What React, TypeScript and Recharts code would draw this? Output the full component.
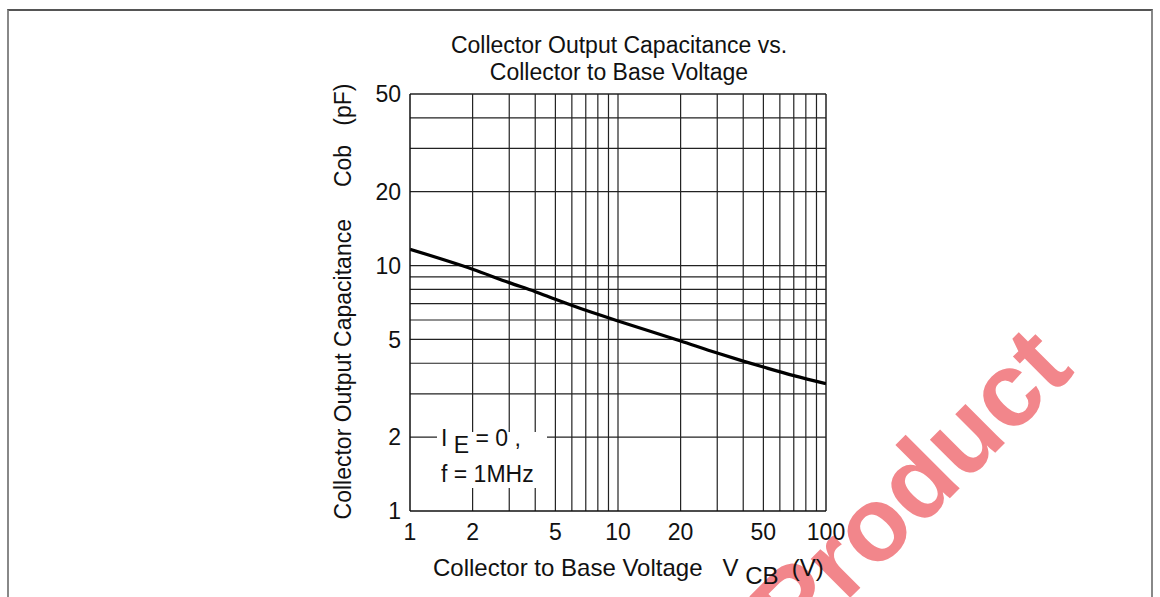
import { LineChart, Line, XAxis, YAxis, ReferenceLine, Label } from "recharts";

// Cob vs VCB (log-log)
const vcb = [1, 2, 3, 4, 5, 7, 10, 20, 30, 40, 50, 70, 100];
const cob = [11.65, 9.66, 8.52, 7.83, 7.29, 6.57, 5.95, 4.93, 4.4, 4.08, 3.86, 3.56, 3.3];

const xTicks = [1, 2, 5, 10, 20, 50, 100];
const yTicks = [1, 2, 5, 10, 20, 50];
const xGrid = [2, 3, 4, 5, 6, 7, 8, 9, 10, 20, 30, 40, 50, 60, 70, 80, 90, 100];
const yGrid = [2, 3, 4, 5, 6, 7, 8, 9, 10, 20, 30, 40, 50];

const data = vcb.map((v, i) => ({ vcb: v, cob: cob[i] }));

const FONT = "'Liberation Sans', Arial, Helvetica, sans-serif";
const INK = "#111";

function YLabel(props: any) {
    const vb = props.viewBox;
    const x = vb.x + 3;
    const y = vb.y + vb.height / 2 - 1;
    return (
        <text
            x={x}
            y={y}
            transform={`rotate(-90 ${x} ${y})`}
            textAnchor="middle"
            dominantBaseline="central"
            fontSize={23}
            fill={INK}
            xmlSpace="preserve"
            style={{ whiteSpace: "pre" }}
        >
            {"Collector Output Capacitance     Cob   (pF)"}
        </text>
    );
}

function XLabel(props: any) {
    const vb = props.viewBox;
    const x = vb.x + 23;
    const y = vb.y + 65;
    return (
        <text
            x={x}
            y={y}
            textAnchor="start"
            fontSize={24}
            fill={INK}
            xmlSpace="preserve"
            style={{ whiteSpace: "pre" }}
        >
            <tspan>{"Collector to Base Voltage   V "}</tspan>
            <tspan dy={8}>{"CB"}</tspan>
            <tspan dy={-8}>{"  (V)"}</tspan>
        </text>
    );
}

export default function App() {
    return (
        <div
            style={{
                position: "absolute",
                left: 0,
                top: 0,
                width: 1160,
                height: 597,
                overflow: "hidden",
                background: "#fff",
                fontFamily: FONT,
            }}
        >
            {/* page frame */}
            <div
                style={{
                    position: "absolute",
                    left: 7,
                    top: 9,
                    width: 1142,
                    height: 620,
                    borderTop: "2px solid #555",
                    borderLeft: "2px solid #888",
                    borderRight: "2px solid #888",
                }}
            />

            {/* watermark, behind the chart */}
            <svg
                width={1160}
                height={597}
                style={{ position: "absolute", left: 0, top: 0 }}
            >
                <text
                    x={1076}
                    y={372}
                    transform="rotate(-45 1076 372)"
                    textAnchor="end"
                    fontSize={105}
                    fontWeight="bold"
                    fontFamily={FONT}
                    fill="#f2868b"
                >
                    Product
                </text>
            </svg>

            <div style={{ position: "absolute", left: 0, top: 0 }}>
                <LineChart
                    width={1160}
                    height={597}
                    data={data}
                    margin={{ top: 94, right: 334, bottom: 46, left: 340 }}
                    style={{ fontFamily: FONT }}
                >
                    <XAxis
                        dataKey="vcb"
                        type="number"
                        scale="log"
                        domain={[1, 100]}
                        ticks={xTicks}
                        allowDataOverflow
                        height={40}
                        tickSize={0}
                        tickMargin={13}
                        axisLine={{ stroke: INK, strokeWidth: 1.5 }}
                        tick={{ fill: INK, fontSize: 23 }}
                        interval={0}
                    >
                        <Label content={XLabel} />
                    </XAxis>
                    <YAxis
                        type="number"
                        scale="log"
                        domain={[1, 50]}
                        ticks={yTicks}
                        allowDataOverflow
                        width={70}
                        tickSize={0}
                        tickMargin={9}
                        axisLine={{ stroke: INK, strokeWidth: 1.5 }}
                        tick={{ fill: INK, fontSize: 23 }}
                        interval={0}
                    >
                        <Label content={YLabel} />
                    </YAxis>

                    {xGrid.map((v) => (
                        <ReferenceLine
                            key={"x" + v}
                            x={v}
                            stroke="#222"
                            strokeWidth={v === 100 ? 1.5 : 1.2}
                        />
                    ))}
                    {yGrid.map((v) => (
                        <ReferenceLine
                            key={"y" + v}
                            y={v}
                            stroke="#222"
                            strokeWidth={v === 50 ? 1.5 : 1.2}
                        />
                    ))}

                    <Line
                        dataKey="cob"
                        type="monotone"
                        stroke="#000"
                        strokeWidth={3.2}
                        dot={false}
                        isAnimationActive={false}
                    />
                </LineChart>
            </div>

            {/* title and condition note */}
            <svg
                width={1160}
                height={597}
                style={{ position: "absolute", left: 0, top: 0, pointerEvents: "none" }}
                fontFamily={FONT}
            >
                <text x={619} y={45} textAnchor="middle" dominantBaseline="central" fontSize={23} fill={INK}>
                    Collector Output Capacitance vs.
                </text>
                <text x={619} y={72} textAnchor="middle" dominantBaseline="central" fontSize={23} fill={INK}>
                    Collector to Base Voltage
                </text>

                <rect x={437} y={432} width={110} height={56} fill="#fff" />
                <text x={441} y={446} fontSize={23} fill={INK} xmlSpace="preserve" style={{ whiteSpace: "pre" }}>
                    <tspan>{"I "}</tspan>
                    <tspan dy={7}>{"E"}</tspan>
                    <tspan dy={-7}>{" = 0 ,"}</tspan>
                </text>
                <text x={441} y={482} fontSize={23} fill={INK}>
                    f = 1MHz
                </text>
            </svg>
        </div>
    );
}
